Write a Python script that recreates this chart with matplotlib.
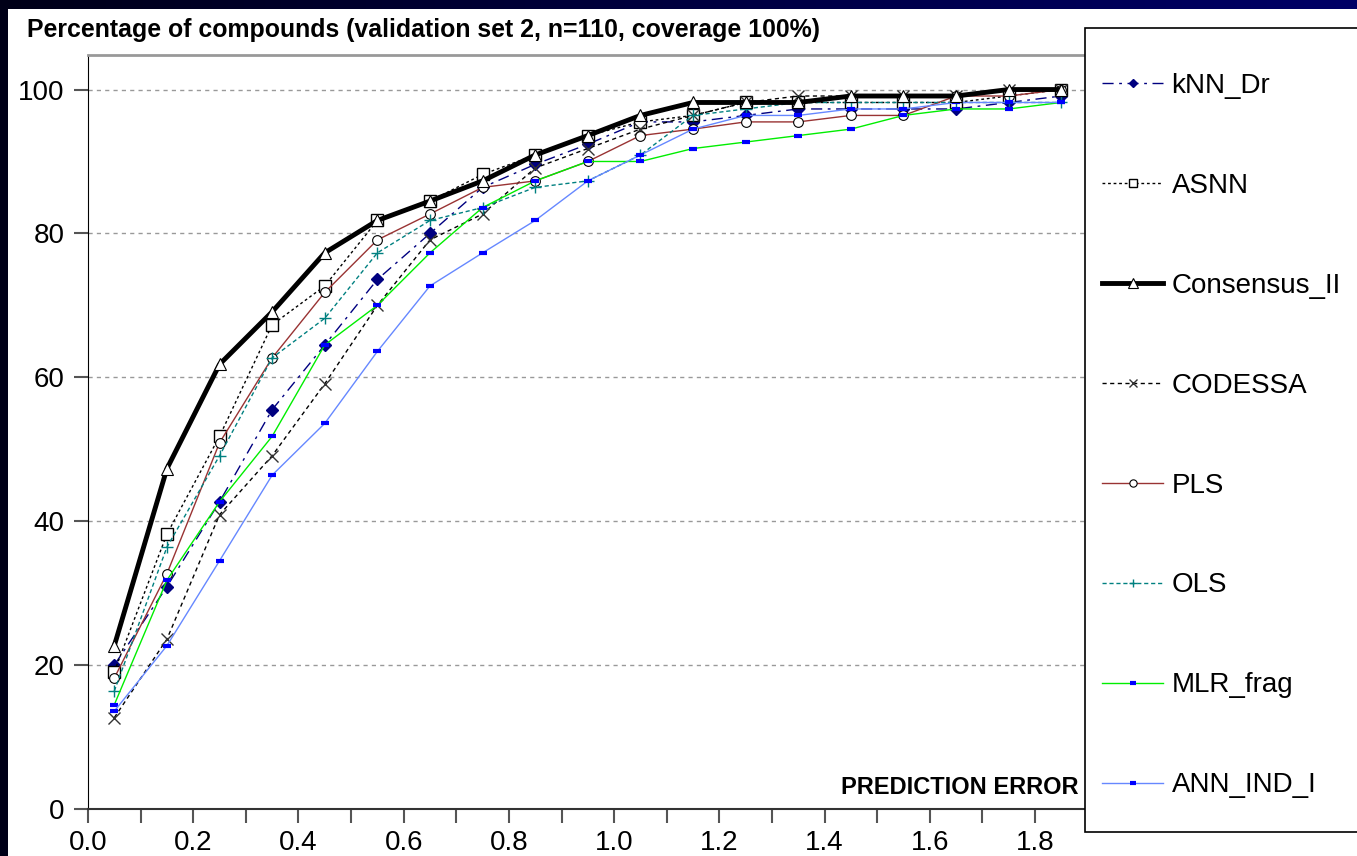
import numpy as np
import matplotlib
matplotlib.use("Agg")
import matplotlib.pyplot as plt
from matplotlib.patches import Rectangle
from matplotlib.ticker import MultipleLocator

plt.rcParams['font.family'] = ['Liberation Sans', 'DejaVu Sans']

# Data: cumulative % of compounds vs. prediction error
error = [0.05, 0.15, 0.25, 0.35, 0.45, 0.55, 0.65, 0.75, 0.85, 0.95,
         1.05, 1.15, 1.25, 1.35, 1.45, 1.55, 1.65, 1.75, 1.85]

knn_dr    = [20.0, 30.9, 42.7, 55.5, 64.5, 73.6, 80.0, 86.4, 89.6, 92.4,
             95.5, 95.5, 96.4, 97.3, 97.3, 97.3, 97.3, 98.2, 99.1]
asnn      = [19.1, 38.2, 51.8, 67.3, 72.7, 81.8, 84.5, 88.2, 90.9, 93.6,
             95.5, 96.4, 98.2, 98.2, 98.2, 98.2, 98.2, 99.1, 100.0]
consensus = [22.7, 47.3, 61.8, 69.1, 77.3, 81.8, 84.5, 87.3, 90.9, 93.6,
             96.4, 98.2, 98.2, 98.2, 99.1, 99.1, 99.1, 100.0, 100.0]
codessa   = [12.7, 23.6, 40.9, 49.1, 59.1, 70.0, 79.1, 82.7, 89.1, 91.8,
             94.5, 96.4, 98.2, 99.1, 99.1, 99.1, 99.1, 100.0, 100.0]
pls       = [18.2, 32.7, 50.9, 62.7, 71.8, 79.1, 82.7, 86.4, 87.3, 90.0,
             93.6, 94.5, 95.5, 95.5, 96.4, 96.4, 99.1, 99.1, 100.0]
ols       = [16.4, 36.4, 49.1, 62.7, 68.2, 77.3, 81.8, 83.6, 86.4, 87.3,
             90.9, 96.4, 97.3, 98.2, 98.2, 98.2, 98.2, 98.2, 98.2]
mlr_frag  = [14.5, 31.8, 42.7, 51.8, 64.5, 70.0, 77.3, 83.6, 87.3, 90.0,
             90.0, 91.8, 92.7, 93.6, 94.5, 96.4, 97.3, 97.3, 98.2]
ann_ind   = [13.6, 22.7, 34.5, 46.4, 53.6, 63.6, 72.7, 77.3, 81.8, 87.3,
             90.9, 94.5, 96.4, 96.4, 97.3, 97.3, 98.2, 98.2, 98.2]

W, H = 1357, 856
fig = plt.figure(figsize=(W / 100, H / 100), dpi=100, facecolor="white")

# dark frame strips (top and left)
band = fig.add_axes([0, 1 - 9 / H, 1, 9 / H])
band.imshow(np.linspace(0, 1, 256).reshape(1, -1), aspect="auto",
            cmap=matplotlib.colors.LinearSegmentedColormap.from_list("b", ["#000018", "#000066"]))
band.axis("off")
fig.patches.append(Rectangle((0, 0), 8 / W, 1, transform=fig.transFigure,
                             facecolor="#000018", edgecolor="none", zorder=0))

ax = fig.add_axes([88 / W, 47 / H, 997 / W, 754 / H])

ax.plot(error, knn_dr, color="#000080", lw=1, linestyle=(0, (8, 4, 2, 4)),
        marker="D", markersize=6, markerfacecolor="#000080", markeredgecolor="#000080", label="kNN_Dr")
ax.plot(error, asnn, color="black", lw=1, linestyle=(0, (2, 2)),
        marker="s", markersize=8, markerfacecolor="white", markeredgecolor="black", label="ASNN")
ax.plot(error, codessa, color="black", lw=1, linestyle=(0, (3, 2.5)),
        marker="x", markersize=8, markeredgecolor="#333333", label="CODESSA")
ax.plot(error, pls, color="#993333", lw=1, linestyle="-",
        marker="o", markersize=7, markerfacecolor="white", markeredgecolor="black", markeredgewidth=0.8, label="PLS")
ax.plot(error, ols, color="#008080", lw=1, linestyle=(0, (3, 2)),
        marker="+", markersize=8, markeredgecolor="#008080", label="OLS")
ax.plot(error, mlr_frag, color="#00EE00", lw=1, linestyle="-",
        marker="_", markersize=6, markeredgewidth=3, markeredgecolor="#0000FF", label="MLR_frag")
ax.plot(error, ann_ind, color="#6688FF", lw=1, linestyle="-",
        marker="_", markersize=6, markeredgewidth=3, markeredgecolor="#0000FF", label="ANN_IND_I")
ax.plot(error, consensus, color="black", lw=3.5, linestyle="-",
        marker="^", markersize=9, markerfacecolor="white", markeredgecolor="black", markeredgewidth=0.8,
        label="Consensus_II")

ax.set_xlim(0, 1.895)
ax.set_ylim(0, 104.8)

ax.xaxis.set_major_locator(MultipleLocator(0.2))
ax.xaxis.set_minor_locator(MultipleLocator(0.1))
ax.xaxis.set_major_formatter(matplotlib.ticker.FormatStrFormatter("%.1f"))
ax.yaxis.set_major_locator(MultipleLocator(20))
ax.tick_params(axis="both", which="both", direction="out", length=10, width=1.5, color="#555555",
               labelsize=20, labelcolor="black")
ax.tick_params(axis="x", pad=5)
ax.tick_params(axis="y", pad=7)

for yv in range(20, 101, 20):
    ax.axhline(yv, color="#999999", lw=1, linestyle=(0, (3, 3)), zorder=0)

ax.spines["left"].set_color("black")
ax.spines["bottom"].set_color("#333333")
ax.spines["bottom"].set_linewidth(1.5)
ax.spines["top"].set_color("#999999")
ax.spines["top"].set_linewidth(2)
ax.spines["right"].set_visible(False)

ax.text(0.993, 0.028, "PREDICTION ERROR", transform=ax.transAxes, ha="right", va="center",
        fontsize=17, fontweight="bold")

fig.text(27 / W, 1 - 30 / H, "Percentage of compounds (validation set 2, n=110, coverage 100%)",
         ha="left", va="center", fontsize=17.9, fontweight="bold")

# legend box
fig.patches.append(Rectangle((1085 / W, 1 - 832 / H), 300 / W, 804 / H, transform=fig.transFigure,
                             facecolor="white", edgecolor="black", lw=1.2, zorder=5))
handles, labels = ax.get_legend_handles_labels()
order = ["kNN_Dr", "ASNN", "Consensus_II", "CODESSA", "PLS", "OLS", "MLR_frag", "ANN_IND_I"]
hmap = dict(zip(labels, handles))
leg = fig.legend([hmap[k] for k in order], order, loc="upper left",
                 bbox_to_anchor=(1077 / W, 1 - 48 / H), frameon=False, fontsize=20,
                 labelspacing=2.66, handlelength=2.2, handletextpad=0.3, markerscale=0.75)
leg.set_zorder(6)

fig.savefig("out.png", dpi=100, facecolor="white")
